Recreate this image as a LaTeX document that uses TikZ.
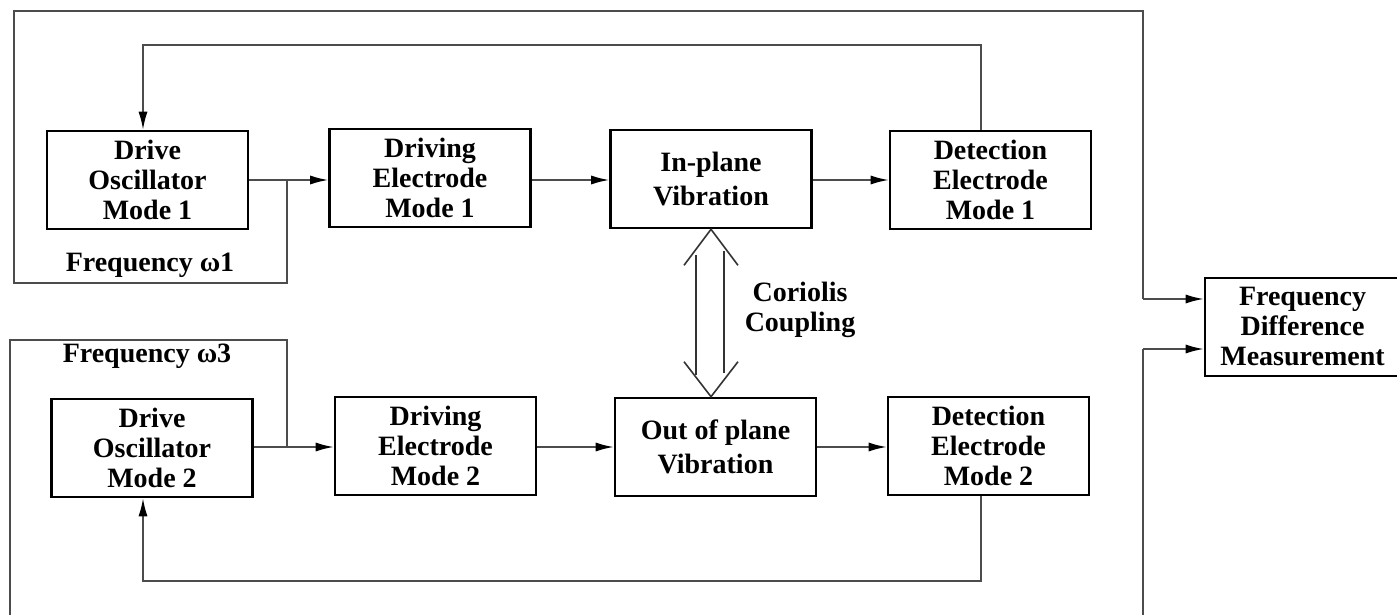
\documentclass[tikz,border=0pt]{standalone}
\usepackage{fontspec}
\setmainfont{Liberation Serif}
\usetikzlibrary{arrows.meta,calc}
\begin{document}
\begin{tikzpicture}[x=0.5pt,y=-0.5pt,
  blk/.style={draw=black, line width=1.3pt, align=center, inner sep=0pt,
    font=\bfseries\fontsize{14}{15}\selectfont, minimum width=100.5pt, minimum height=49pt},
  lbl/.style={align=center, inner sep=0pt, font=\bfseries\fontsize{14}{15}\selectfont},
  wire/.style={draw=black!70, line width=0.8pt},
  arr/.style={wire, -{Latex[length=9pt,width=4.5pt,color=black]}},
  dbl/.style={draw=black!80, line width=0.8pt}]
\useasboundingbox (0,0) rectangle (1397,615);
% boxes
\node[blk] (osc1) at (147.5,180) {Drive\\Oscillator\\Mode 1};
\node[blk] (de1)  at (430,178)   {Driving\\Electrode\\Mode 1};
\node[blk] (ip)   at (711,179)   {In-plane\\[2pt]Vibration};
\node[blk] (det1) at (990.5,180) {Detection\\Electrode\\Mode 1};
\node[blk] (osc2) at (152,448)   {Drive\\Oscillator\\Mode 2};
\node[blk] (de2)  at (435.5,446) {Driving\\Electrode\\Mode 2};
\node[blk] (oop)  at (715.5,447) {Out of plane\\[2pt]Vibration};
\node[blk] (det2) at (988.5,446) {Detection\\Electrode\\Mode 2};
\node[blk, minimum width=97.5pt] (fdm) at (1302.5,327) {Frequency\\Difference\\Measurement};
% labels
\node[lbl] (f1) at (150,265) {Frequency ω1};
\node[lbl] (f3) at (147,356) {Frequency ω3};
\node[lbl] (cc) at (800,310) {Coriolis\\Coupling};
% coordinates
\coordinate (j1) at (287,180);
\coordinate (j2) at (287,447);
\coordinate (a1) at (287,283);
\coordinate (a2) at (14,283);
\coordinate (a3) at (14,11);
\coordinate (a4) at (1143,11);
\coordinate (a5) at (1143,299);
\coordinate (b1) at (287,340);
\coordinate (b2) at (10,340);
\coordinate (b3) at (10,615);
\coordinate (b4) at (1143,615);
\coordinate (b5) at (1143,349);
\coordinate (t1) at (981,45);
\coordinate (t2) at (143,45);
\coordinate (u1) at (981,581);
\coordinate (u2) at (143,581);
% forward chain top
\draw[arr] (osc1.east |- j1) -- (de1.west |- j1);
\draw[arr] (de1.east |- j1) -- (ip.west |- j1);
\draw[arr] (ip.east |- j1) -- (det1.west |- j1);
% forward chain bottom
\draw[arr] (osc2.east |- j2) -- (de2.west |- j2);
\draw[arr] (de2.east |- j2) -- (oop.west |- j2);
\draw[arr] (oop.east |- j2) -- (det2.west |- j2);
% outer loops
\draw[wire] (j1) -- (a1) -- (a2) -- (a3) -- (a4) -- (a5);
\draw[arr] (a5) -- (fdm.west |- a5);
\draw[wire] (j2) -- (b1) -- (b2) -- (b3);
\draw[wire] (b4) -- (b5);
\draw[arr] (b5) -- (fdm.west |- b5);
% feedback loops
\draw[arr] (det1.north -| t1) -- (t1) -- (t2) -- (osc1.north -| t2);
\draw[arr] (det2.south -| u1) -- (u1) -- (u2) -- (osc2.south -| u2);
% coriolis double arrow
\coordinate (ca) at (ip.south);
\coordinate (cb) at (oop.north -| ip.south);
\draw[dbl, line join=miter] ($(ca)+(-27,36)$) -- (ca) -- ($(ca)+(27,36)$);
\draw[dbl, line join=miter] ($(cb)+(-27,-35)$) -- (cb) -- ($(cb)+(27,-35)$);
\draw[dbl] ($(ca)+(-15,26)$) -- ($(cb)+(-15,-22)$);
\draw[dbl] ($(ca)+(13,22)$) -- ($(cb)+(13,-24)$);
\end{tikzpicture}
\end{document}
